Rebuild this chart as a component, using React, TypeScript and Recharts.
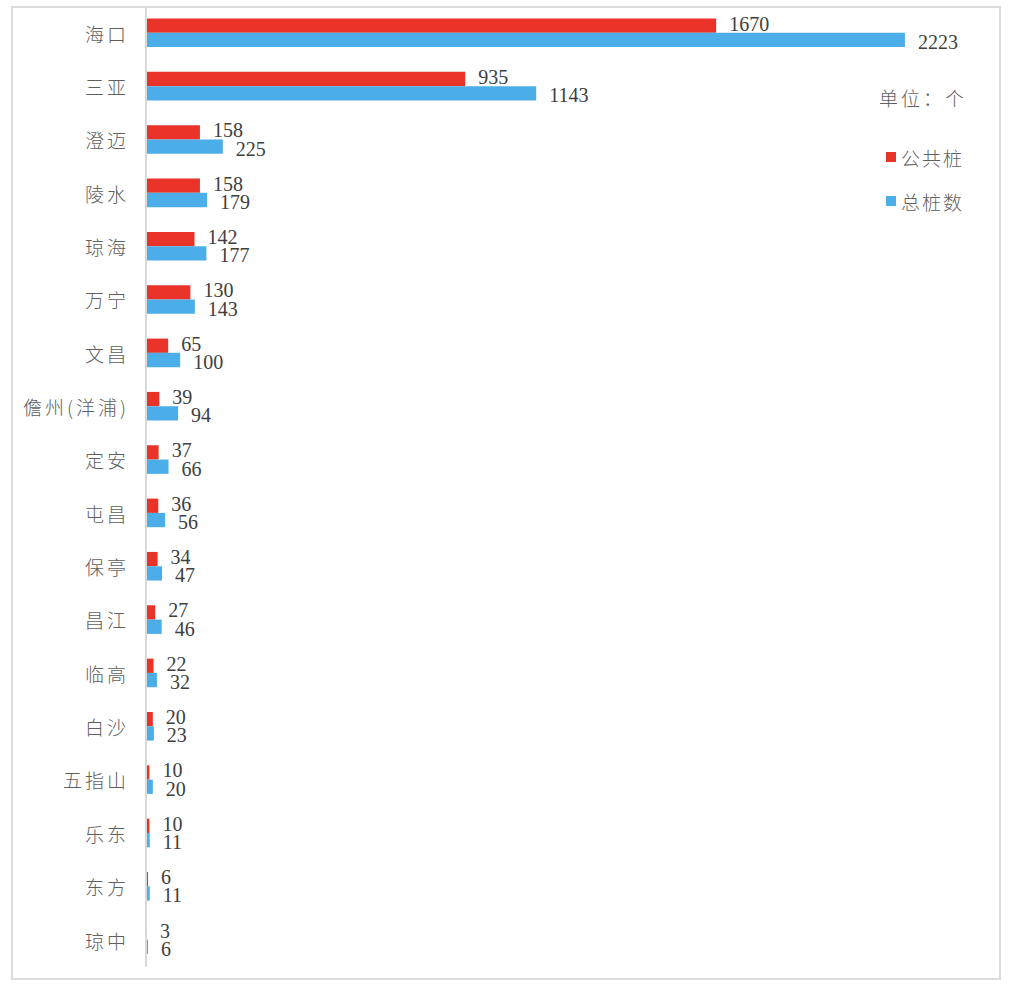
import { BarChart, Bar, XAxis, YAxis, LabelList } from "recharts";

const CITIES = ["海口", "三亚", "澄迈", "陵水", "琼海", "万宁", "文昌", "儋州(洋浦)", "定安", "屯昌", "保亭", "昌江", "临高", "白沙", "五指山", "乐东", "东方", "琼中"];
const PUBLIC_PILES = [1670, 935, 158, 158, 142, 130, 65, 39, 37, 36, 34, 27, 22, 20, 10, 10, 6, 3];
const TOTAL_PILES = [2223, 1143, 225, 179, 177, 143, 100, 94, 66, 56, 47, 46, 32, 23, 20, 11, 11, 6];

const RED = "#e93228";
const BLUE = "#4baee8";
const CJK = '"Noto Sans CJK SC", "Noto Sans", sans-serif';
const NUM = '"Liberation Serif", "DejaVu Serif", serif';

const data = CITIES.map((name, i) => ({ name, pub: PUBLIC_PILES[i], total: TOTAL_PILES[i] }));

const legendItems = [
  { label: "公共桩", color: RED },
  { label: "总桩数", color: BLUE },
];

// red labels sit a little higher, blue a little lower, so small pairs don't collide as much
function makeLabel(dy: number) {
  return function ValueLabel(props: any) {
    const { x, y, width, height, value } = props;
    return (
      <text x={x + width + 13} y={y + height / 2 + dy} dominantBaseline="central" fill="#404040" fontSize={20} fontFamily={NUM}>
        {value}
      </text>
    );
  };
}
const PubLabel = makeLabel(-2);
const TotalLabel = makeLabel(2);

function CityTick(props: any) {
  const { x, y, payload } = props;
  return (
    <text x={x} y={y} textAnchor="end" dominantBaseline="central" fill="#606060" fontSize={19} fontWeight={300} letterSpacing={3} fontFamily={CJK}>
      {payload.value}
    </text>
  );
}

export default function App() {
  return (
    <div style={{ position: "absolute", left: 0, top: 0, width: 1016, height: 996, background: "#fff" }}>
      <div style={{ position: "absolute", left: 11, top: 6, width: 986, height: 970, border: "2px solid #dcdcdc" }} />
      <div style={{ position: "absolute", left: 879, top: 84, fontFamily: CJK, fontSize: 19, fontWeight: 300, letterSpacing: 3, color: "#606060" }}>
        单位：个
      </div>
      <div style={{ position: "absolute", left: 886, top: 135, fontFamily: CJK }}>
        {legendItems.map((it) => (
          <div key={it.label} style={{ display: "flex", alignItems: "center", height: 44 }}>
            <span style={{ width: 10, height: 10, background: it.color, marginRight: 5 }} />
            <span style={{ fontSize: 19, fontWeight: 300, letterSpacing: 2, color: "#606060" }}>{it.label}</span>
          </div>
        ))}
      </div>
      <BarChart
        width={1016}
        height={996}
        data={data}
        layout="vertical"
        margin={{ top: 6.5, right: 16.5, bottom: 29.3, left: 0 }}
        barGap={0}
        barSize={14.3}
        style={{ position: "absolute", left: 0, top: 0 }}
      >
        <XAxis type="number" domain={[0, 2500]} hide />
        <YAxis
          type="category"
          dataKey="name"
          width={146}
          axisLine={{ stroke: "#d9d9d9", strokeWidth: 2 }}
          tickLine={false}
          tickSize={6}
          tickMargin={11}
          tick={<CityTick />}
          interval={0}
        />
        <Bar dataKey="pub" name="公共桩" fill={RED} isAnimationActive={false}>
          <LabelList dataKey="pub" content={<PubLabel />} />
        </Bar>
        <Bar dataKey="total" name="总桩数" fill={BLUE} isAnimationActive={false}>
          <LabelList dataKey="total" content={<TotalLabel />} />
        </Bar>
      </BarChart>
    </div>
  );
}
